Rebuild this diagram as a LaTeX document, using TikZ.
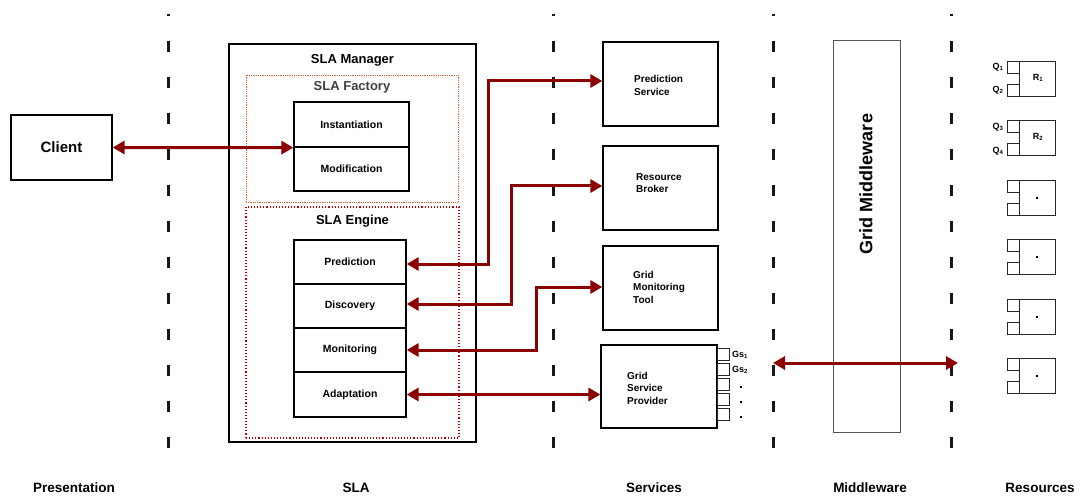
\documentclass[tikz,border=0pt]{standalone}
\usepackage{fontspec}
\setmainfont{Liberation Sans}
\usetikzlibrary{arrows.meta,calc}

\definecolor{linkred}{HTML}{8B0000}
\definecolor{factoryorange}{HTML}{E8602C}
\definecolor{enginered}{HTML}{C00000}
\definecolor{mwgray}{HTML}{555555}

\tikzset{
  layerline/.style={line width=3pt,draw=black!90,dash pattern=on 11pt off 25pt,dash phase=9pt},
  blk/.style={draw=black,line width=1.3pt,fill=white,inner sep=0pt,
              font=\fontsize{10.5}{12}\selectfont\bfseries},
  svc/.style={draw=black,line width=1.3pt,fill=white,inner sep=0pt,
              minimum width=115pt,minimum height=84pt},
  svctext/.style={align=left,anchor=west,inner sep=0pt,
              font=\fontsize{10}{12.5}\selectfont\bfseries},
  title/.style={inner sep=0pt,font=\fontsize{13}{15}\selectfont\bfseries},
  layerlabel/.style={inner sep=0pt,font=\fontsize{13.5}{15}\selectfont\bfseries},
  conn/.style={line width=3pt,draw=linkred,
              {Triangle[length=12pt,width=13pt]}-{Triangle[length=12pt,width=13pt]}},
  small/.style={draw=black!85,line width=0.9pt},
  smalltext/.style={inner sep=0pt,font=\fontsize{9}{10}\selectfont\bfseries},
}

\begin{document}
\begin{tikzpicture}[x=1pt,y=-1pt]
\useasboundingbox (0,0) rectangle (1087,497);

% layer separators
\foreach \lx in {168,553,773,951}
  \draw[layerline] (\lx,14) -- (\lx,460);

% presentation layer
\node[blk,minimum width=101pt,minimum height=65pt,font=\fontsize{15}{17}\selectfont\bfseries]
  (client) at (61.5,147.5) {Client};

% SLA layer
\node[draw=black,line width=2.6pt,fill=white,minimum width=247pt,minimum height=398pt,inner sep=0pt]
  (manager) at (352.5,243) {};
\node[title] (managertitle) at (352.5,60) {SLA Manager};

\node[draw=factoryorange,line width=0.8pt,densely dotted,minimum width=212pt,minimum height=127pt,inner sep=0pt]
  (factory) at (352,138.5) {};
\node[title,text=black!75] (factorytitle) at (352,87) {SLA Factory};
\node[blk,minimum width=115pt,minimum height=45pt] (inst) at (351.5,124.5) {Instantiation};
\node[blk,minimum width=115pt,minimum height=44pt] (modif) at (351.5,169) {Modification};

\node[draw=enginered,line width=1.1pt,dotted,minimum width=213pt,minimum height=231pt,inner sep=0pt]
  (engine) at (352.5,322.5) {};
\node[title] (enginetitle) at (352.5,221) {SLA Engine};
\node[blk,minimum width=112pt,minimum height=44pt] (pred)  at (350,262)   {Prediction};
\node[blk,minimum width=112pt,minimum height=44pt] (disc)  at (350,306)   {Discovery};
\node[blk,minimum width=112pt,minimum height=44pt] (mon)   at (350,350)   {Monitoring};
\node[blk,minimum width=112pt,minimum height=45pt] (adapt) at (350,394.5) {Adaptation};

% services layer
\node[svc] (ps)  at (660.5,84)  {};
\node[svctext] (pstext) at (634,85.5) {Prediction\\Service};
\node[svc] (rb)  at (660.5,188) {};
\node[svctext] (rbtext) at (636,183) {Resource\\Broker};
\node[svc] (gmt) at (660.5,288) {};
\node[svctext] (gmttext) at (633,287) {Grid\\Monitoring\\Tool};
\node[svc,minimum width=116pt,minimum height=83pt] (gsp) at (659,386.5) {};
\node[svctext] (gsptext) at (627,388) {Grid\\Service\\Provider};

% service slots of the provider
\foreach \st in {348,363,378,393,408}
  \draw[small] (717,\st) rectangle (729,\st+12);
\node[smalltext,anchor=west] (gs1) at (732,355) {Gs\textsubscript{1}};
\node[smalltext,anchor=west] (gs2) at (732,370) {Gs\textsubscript{2}};
\foreach \dy in {386,401,416}
  \fill (740,\dy) rectangle (742,\dy+2);

% middleware layer
\node[draw=mwgray,line width=0.9pt,fill=white,minimum width=67pt,minimum height=392pt,inner sep=0pt]
  (mw) at (866.5,236) {};
\node[rotate=90,inner sep=0pt,font=\fontsize{18}{20}\selectfont\bfseries] (mwtext) at (866,184) {Grid Middleware};

% resources layer
\foreach \t in {61,120,180,239,299,358} {
  \draw[small] (1019,\t) rectangle (1055,\t+35);
  \draw[small] (1007,\t) rectangle (1019,\t+12);
  \draw[small] (1007,\t+23) rectangle (1019,\t+35);
}
\foreach \t in {180,239,299,358}
  \fill (1036,\t+17) rectangle (1038,\t+19);
\node[smalltext] (q1) at (998,67)  {Q\textsubscript{1}};
\node[smalltext] (q2) at (998,90)  {Q\textsubscript{2}};
\node[smalltext] (q3) at (998,127) {Q\textsubscript{3}};
\node[smalltext] (q4) at (998,151) {Q\textsubscript{4}};
\node[smalltext] (r1) at (1038,78)  {R\textsubscript{1}};
\node[smalltext] (r2) at (1038,137) {R\textsubscript{2}};

% connectors
\coordinate (mwleft)  at (773,363);
\coordinate (mwright) at (958,363);
\draw[conn] (client.east) -- (inst.south west);
\draw[conn] ([yshift=-2pt]pred.east) -- (488,264) |- ([yshift=3pt]ps.west);
\draw[conn] ([yshift=2pt]disc.east) -- (511,304) |- ([yshift=2pt]rb.west);
\draw[conn] (mon.east) -- (536,350) |- ([yshift=1pt]gmt.west);
\draw[conn] (adapt.east) -- (adapt.east -| gsp.west);
\draw[conn] (mwleft) -- (mwright);

% layer names
\node[layerlabel] (lp) at (74,488)   {Presentation};
\node[layerlabel] (ls) at (356,488)  {SLA};
\node[layerlabel] (lv) at (654,488)  {Services};
\node[layerlabel] (lm) at (870,488)  {Middleware};
\node[layerlabel] (lr) at (1040,488) {Resources};
\end{tikzpicture}
\end{document}
